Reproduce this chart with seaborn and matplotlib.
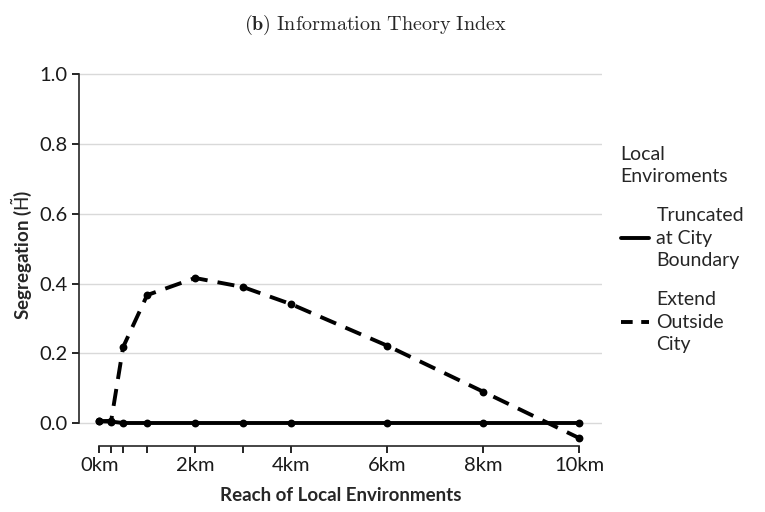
import pandas as pd
import matplotlib
matplotlib.use("Agg")
import matplotlib.pyplot as plt
from matplotlib.lines import Line2D
import seaborn as sns

# ── Data ──────────────────────────────────────────────────────────────────────
reach_km = [0, 0.25, 0.5, 1, 2, 3, 4, 6, 8, 10]
truncated = [0.005, 0.004, 0.0, 0.0, 0.0, 0.0, 0.0, 0.0, 0.0, 0.0]
extended = [0.005, 0.006, 0.218, 0.367, 0.416, 0.390, 0.341, 0.222, 0.090, -0.043]
series_names = ["Truncated\nat City\nBoundary", "Extend\nOutside\nCity"]
tick_pos = [0, 0.25, 0.5, 1, 2, 3, 4, 6, 8, 10]
tick_labels = ["0km", "", "", "", "2km", "", "4km", "6km", "8km", "10km"]

df = pd.DataFrame({
    "reach": reach_km * 2,
    "seg": truncated + extended,
    "env": [series_names[0]] * len(reach_km) + [series_names[1]] * len(reach_km),
})

# ── Style ─────────────────────────────────────────────────────────────────────
sns.set_style("ticks")
plt.rcParams.update({
    "font.family": ["Lato", "DejaVu Sans"],
    "font.size": 14,
    "mathtext.fontset": "custom",
    "mathtext.rm": "Lato",
    "mathtext.bf": "Lato:bold",
    "mathtext.it": "Lato:italic",
})

fig = plt.figure(figsize=(7.65, 5.12), dpi=100)
ax = fig.add_axes([79 / 765, 66 / 512, 523 / 765, 382 / 512])

ax.yaxis.grid(True, color="#d9d9d9", linewidth=1.0)
ax.set_axisbelow(True)

sns.lineplot(data=df, x="reach", y="seg", style="env", style_order=series_names,
             dashes={series_names[0]: "", series_names[1]: (4.4, 2.6)},
             color="black", linewidth=2.8, legend=False, ax=ax)
sns.scatterplot(data=df, x="reach", y="seg", color="black", s=32,
                edgecolor="black", linewidth=0, zorder=5, legend=False, ax=ax)

ax.set_xlim(-0.42, 10.48)
ax.set_ylim(-0.066, 1.03)
ax.set_xticks(tick_pos)
ax.set_xticklabels(tick_labels)
ax.set_yticks([0, 0.2, 0.4, 0.6, 0.8, 1.0])
ax.set_yticklabels(["0.0", "0.2", "0.4", "0.6", "0.8", "1.0"])
ax.tick_params(axis="both", labelsize=14.5, length=5, width=1.2, color="black",
               labelcolor="#1a1a1a", pad=3)

sns.despine(ax=ax)
ax.spines["left"].set_bounds(0, 1.0)
ax.spines["bottom"].set_bounds(0, 10)
ax.spines["left"].set_linewidth(1.2)
ax.spines["bottom"].set_linewidth(1.2)

ax.set_xlabel("Reach of Local Environments", fontweight="bold", fontsize=13.5,
              labelpad=9)
ax.set_ylabel(r"Segregation ($\mathrm{\tilde{H}}$)", fontweight="bold",
              fontsize=13.5, labelpad=4)

fig.suptitle(r"$\mathbf{(b)}\ \mathrm{Information\ Theory\ Index}$",
             x=0.49, y=0.975, fontsize=14.5, math_fontfamily="cm")

handles = [
    Line2D([], [], color="black", linewidth=2.8),
    Line2D([], [], color="black", linewidth=2.8, dashes=(3.0, 2.2)),
]
leg = fig.legend(handles, series_names, title="Local\nEnviroments",
                 loc="upper left", bbox_to_anchor=(603 / 765, 1 - 128 / 512),
                 frameon=False, fontsize=14, title_fontsize=14,
                 handlelength=1.45, labelspacing=1.15, handletextpad=0.4)
leg._legend_box.align = "left"
for t in leg.get_texts():
    t.set_linespacing(1.38)
leg.get_title().set_linespacing(1.38)

fig.savefig("out.png", dpi=100)
